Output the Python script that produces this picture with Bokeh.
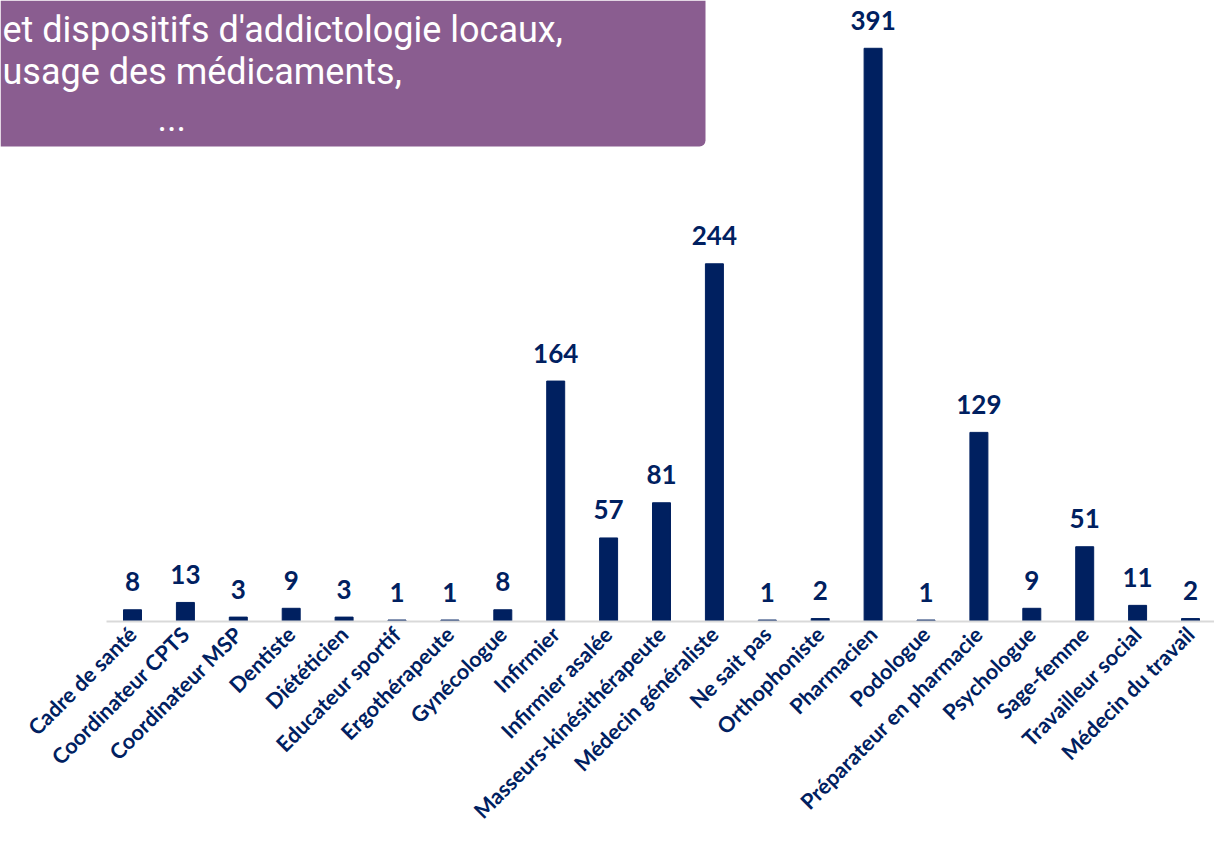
import math
from bokeh.plotting import figure
from bokeh.models import (Range1d, LinearAxis, FixedTicker, BoxAnnotation, Label,
                          ColumnDataSource)
from bokeh.core.properties import value
from bokeh.embed import file_html
from bokeh.resources import INLINE

categories = ["Cadre de santé", "Coordinateur CPTS", "Coordinateur MSP", "Dentiste",
              "Diététicien", "Educateur sportif", "Ergothérapeute", "Gynécologue",
              "Infirmier", "Infirmier asalée", "Masseurs-kinésithérapeute",
              "Médecin généraliste", "Ne sait pas", "Orthophoniste", "Pharmacien",
              "Podologue", "Préparateur en pharmacie", "Psychologue", "Sage-femme",
              "Travailleur social", "Médecin du travail"]
counts = [8, 13, 3, 9, 3, 1, 1, 8, 164, 57, 81, 244, 1, 2, 391, 1, 129, 9, 51, 11, 2]
box_lines = ["et dispositifs d'addictologie locaux,", "usage des médicaments,", "..."]

NAVY = "#002060"
W, H = 1214, 837
STEP = 52.9          # px per category
FIRST = 132          # px of first category centre from canvas left
FRAME_H = 621
PX_PER_UNIT = 1.466

idx = list(range(len(categories)))
src = ColumnDataSource(dict(x=idx, y=counts, lab=[str(c) for c in counts]))

x0 = -FIRST / STEP
p = figure(width=W, height=H, output_backend="svg", toolbar_location=None,
           x_range=Range1d(x0, x0 + W / STEP),
           y_range=Range1d(0, FRAME_H / PX_PER_UNIT),
           x_axis_location=None, y_axis_location=None,
           min_border_left=0, min_border_right=0, min_border_top=0,
           min_border_bottom=H - FRAME_H)
p.outline_line_color = None
p.xgrid.visible = False
p.ygrid.visible = False
p.background_fill_color = "white"
p.border_fill_color = "white"

p.vbar(x="x", top="y", width=0.34, bottom=0, source=src, color=NAVY)
p.text(x="x", y="y", text="lab", source=src, text_align="center",
       text_baseline="alphabetic", y_offset=-28, text_color=NAVY,
       text_font=value("Lato"), text_font_style="bold", text_font_size="26px")

ax = LinearAxis(ticker=FixedTicker(ticks=idx),
                major_label_overrides={i: c for i, c in zip(idx, categories)},
                bounds=(-0.5, len(categories) - 0.5))
ax.axis_line_color = "#D9D9D9"
ax.axis_line_width = 2
ax.major_tick_line_color = None
ax.minor_tick_line_color = None
ax.major_label_orientation = math.pi / 4
ax.major_label_standoff = 3
ax.major_label_text_font = "Lato"
ax.major_label_text_font_style = "bold"
ax.major_label_text_font_size = "21.5px"
ax.major_label_text_color = NAVY
p.add_layout(ax, "below")

box = BoxAnnotation(left=0, right=705, top=0, bottom=146,
                    left_units="canvas", right_units="canvas",
                    top_units="canvas", bottom_units="canvas",
                    fill_color="#8A5D90", fill_alpha=1.0, line_color=None,
                    border_radius=(0, 0, 6, 0), level="overlay")
p.add_layout(box)

for txt, xx, yy in [(box_lines[0], 2, 29), (box_lines[1], 2, 71), (box_lines[2], 157, 117)]:
    p.add_layout(Label(x=xx, y=yy, x_units="canvas", y_units="canvas", text=txt,
                       text_font="Roboto", text_font_size="36px", text_color="white",
                       text_baseline="alphabetic", text_align="left", level="overlay"))

open("out.html", "w").write(file_html(p, INLINE))
